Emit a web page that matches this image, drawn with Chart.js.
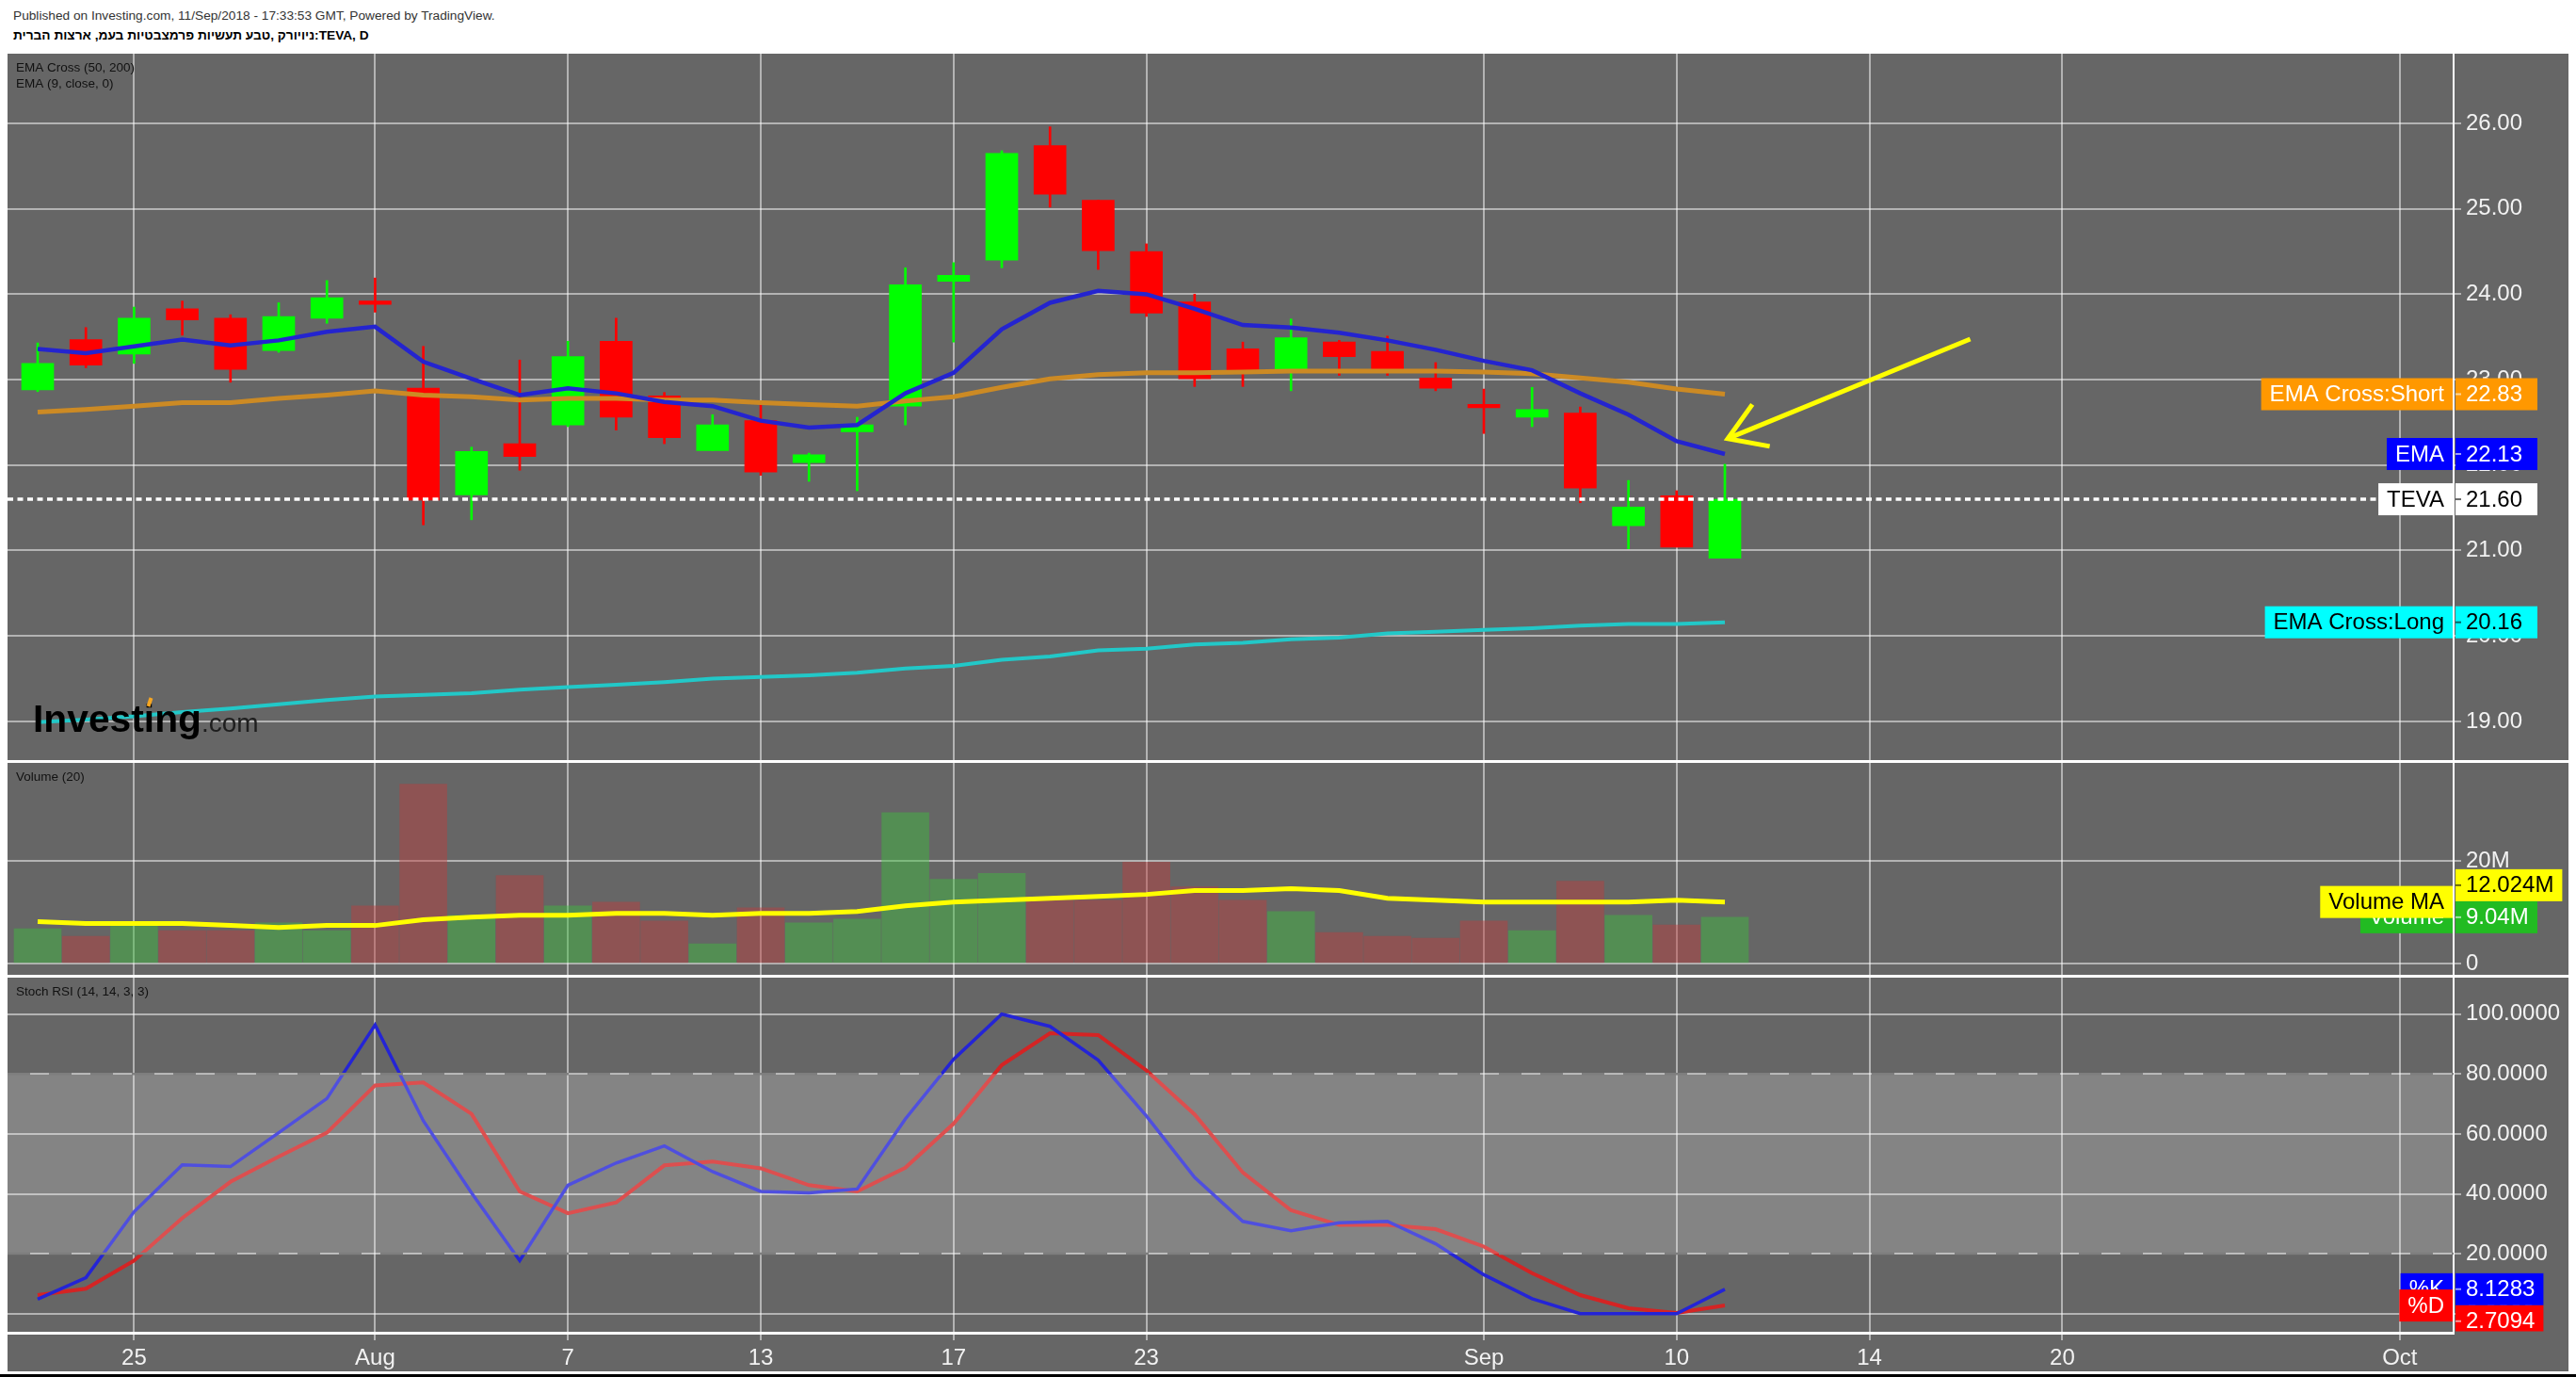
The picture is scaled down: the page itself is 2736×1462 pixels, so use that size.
<!DOCTYPE html>
<html>
<head>
<meta charset="utf-8">
<title>TEVA, D</title>
<script src="https://cdn.jsdelivr.net/npm/chart.js@4.4.1/dist/chart.umd.min.js"></script>
<style>
 html,body{margin:0;padding:0;background:#fff;width:2736px;height:1462px;overflow:hidden;}
 body{font-family:"Liberation Sans",Arial,sans-serif;position:relative;}
 #h1{position:absolute;left:14px;top:9px;font-size:13.7px;line-height:16px;color:#333;white-space:nowrap;}
 #h2{position:absolute;left:14px;top:30px;font-size:13.7px;line-height:16px;font-weight:bold;color:#000;white-space:nowrap;}
 #bg{position:absolute;left:8px;top:57px;width:2720px;height:1399px;background:#666;}
 .sep{position:absolute;left:8px;width:2720px;height:3px;background:#fff;}
 #bot{position:absolute;left:0;top:1459px;width:2736px;height:3px;background:#000;}
 canvas{position:absolute;left:0;}
</style>
</head>
<body>
<div id="h1">Published on Investing.com, 11/Sep/2018 - 17:33:53 GMT, Powered by TradingView.</div>
<div id="h2">ניויורק ,טבע תעשיות פרמצבטיות בעמ, ארצות הברית:TEVA, D</div>
<div id="bg"></div>
<canvas id="cMain" width="2736" height="750" style="top:57px"></canvas>
<div class="sep" style="top:807px"></div>
<canvas id="cVol" width="2736" height="225" style="top:810px"></canvas>
<div class="sep" style="top:1035px"></div>
<canvas id="cStoch" width="2736" height="419" style="top:1038px"></canvas>
<div id="bot"></div>
<script>
// ---------------- DATA ----------------
const days = ['Jul 23','Jul 24','Jul 25','Jul 26','Jul 27','Jul 30','Jul 31',
  'Aug 1','Aug 2','Aug 3','Aug 6','Aug 7','Aug 8','Aug 9','Aug 10','Aug 13','Aug 14','Aug 15','Aug 16','Aug 17',
  'Aug 20','Aug 21','Aug 22','Aug 23','Aug 24','Aug 27','Aug 28','Aug 29','Aug 30','Aug 31',
  'Sep 4','Sep 5','Sep 6','Sep 7','Sep 10','Sep 11'];
const openP  = [22.88,23.47,23.30,23.83,23.72,23.34,23.72,23.92,22.90,21.65,22.25,22.47,23.45,22.81,22.17,22.52,22.03,22.39,22.69,24.15,24.40,25.74,25.10,24.50,23.91,23.36,23.09,23.44,23.33,23.02,22.71,22.56,22.61,21.29,21.64,20.91];
const highP  = [23.43,23.61,23.85,23.92,23.76,23.90,24.16,24.19,23.39,22.21,23.23,23.45,23.72,22.85,22.59,22.72,22.14,22.56,24.31,24.37,25.68,25.96,25.10,24.59,24.00,23.44,23.71,23.46,23.51,23.20,22.89,22.91,22.68,21.82,21.70,22.01];
const lowP   = [22.86,23.14,23.19,23.52,22.97,23.32,23.66,23.79,21.30,21.36,21.94,22.45,22.41,22.25,22.17,21.88,21.81,21.70,22.47,23.44,24.31,25.02,24.29,23.74,22.92,22.92,22.87,23.05,23.05,22.87,22.37,22.45,21.56,21.02,21.04,20.91];
const closeP = [23.19,23.17,23.72,23.70,23.12,23.74,23.96,23.88,21.59,22.16,22.10,23.27,22.56,22.32,22.47,21.92,22.12,22.47,24.11,24.22,25.65,25.17,24.51,23.78,23.01,23.07,23.49,23.27,23.12,22.90,22.67,22.65,21.73,21.51,21.04,21.60];
const ema9   = [23.36,23.31,23.39,23.47,23.40,23.46,23.56,23.62,23.21,23.01,22.82,22.90,22.84,22.74,22.69,22.52,22.44,22.47,22.84,23.08,23.59,23.90,24.04,24.00,23.83,23.64,23.61,23.55,23.46,23.35,23.22,23.11,22.84,22.59,22.28,22.13];
const ema50  = [22.62,22.65,22.69,22.73,22.73,22.78,22.82,22.87,22.82,22.80,22.76,22.78,22.78,22.76,22.76,22.73,22.71,22.69,22.75,22.80,22.91,23.01,23.06,23.08,23.08,23.09,23.10,23.10,23.10,23.10,23.09,23.07,23.02,22.97,22.89,22.83];
const ema200 = [18.99,19.02,19.06,19.11,19.15,19.20,19.25,19.29,19.31,19.33,19.37,19.40,19.43,19.46,19.50,19.52,19.54,19.57,19.62,19.65,19.72,19.76,19.83,19.85,19.90,19.92,19.96,19.98,20.03,20.05,20.07,20.09,20.12,20.14,20.14,20.16];
const volumeM   = [6.81,5.33,7.31,6.44,6.44,7.93,6.44,11.27,35.05,9.41,17.21,11.27,12.01,8.30,3.84,10.90,7.93,8.67,29.47,16.47,17.59,12.38,12.38,19.81,14.98,12.38,10.15,6.07,5.33,4.95,8.30,6.44,16.10,9.41,7.55,9.04];
const volumeMA  = [8.17,7.80,7.80,7.80,7.43,7.06,7.43,7.43,8.54,9.04,9.41,9.41,9.78,9.78,9.41,9.78,9.78,10.15,11.27,12.01,12.38,12.76,13.13,13.50,14.24,14.24,14.61,14.24,12.76,12.38,12.01,12.01,12.01,12.01,12.38,12.024];
const stochK = [4.8,12.0,34.0,49.7,49.1,60.4,71.8,96.4,64.4,40.3,17.7,42.9,50.3,56.0,47.4,40.8,40.3,41.6,65.0,84.9,100,95.9,84.6,66.0,45.5,30.8,27.7,30.3,30.8,23.3,13.0,5.0,0,0,0,8.1283];
const stochD = [6.2,8.3,17.7,31.9,44.0,52.4,60.4,76.2,77.2,66.7,40.8,33.5,37.1,49.5,50.8,48.5,42.9,40.8,48.7,63.4,83.0,93.6,93.0,81.2,66.5,47.1,34.5,29.6,29.6,28.2,22.4,13.5,6.2,1.8,0.2,2.7094];
const xTickIndex  = [2,7,11,15,19,23,30,34,38,42,49];
const xTickLabels = ['25','Aug','7','13','17','23','Sep','10','14','20','Oct'];
const priceTicks  = [19,20,21,22,23,24,25,26];
const volumeTicks = [0,20];
const stochTicks  = [0,20,40,60,80,100];
// annotation arrow (data space: [bar index, price])
const arrowShaft = [[40.09,23.475],[35.06,22.31]];
const arrowHead  = [[35.57,22.71],[35.06,22.31],[35.93,22.22]];

// ---------------- STYLE / LAYOUT ----------------
const FONT = '"Liberation Sans", Arial, sans-serif';
const GRID = 'rgba(255,255,255,0.5)';
const TICK_COLOR = '#f2f2f2';
const X_MIN = -0.625, X_MAX = 50.117;
const AXIS_W = 130;
const UP = '#00ff00', DOWN = '#ff0000';
const candleColors = closeP.map((c,i)=> c >= openP[i] ? UP : DOWN);
const volColors = closeP.map((c,i)=> c >= openP[i] ? 'rgba(60,190,60,0.45)' : 'rgba(190,60,60,0.45)');
const pts = arr => arr.map((v,i)=>({x:i, y:v}));

function xScale(show){
  return {
    type:'linear', min:X_MIN, max:X_MAX, offset:false,
    afterBuildTicks: s => { s.ticks = xTickIndex.map(v=>({value:v})); },
    afterFit: s => { s.height = show ? 42 : 0; s.paddingLeft = 0; s.paddingRight = 0; },
    grid:{color:GRID, lineWidth:2, drawTicks:show, tickLength:8, offset:false},
    border: show ? {display:true, color:'#ffffff', width:3} : {display:false},
    ticks:{display:show, autoSkip:false, maxRotation:0, minRotation:0, color:TICK_COLOR,
      font:{family:FONT, size:24}, padding:5,
      callback:(v)=>{ const k = xTickIndex.indexOf(v); return k>=0 ? xTickLabels[k] : ''; }}
  };
}
function yScale(min, max, ticks, fmt){
  return {
    type:'linear', position:'right', min, max, beginAtZero:false,
    afterBuildTicks: s => { s.ticks = ticks.map(v=>({value:v})); },
    afterFit: s => { s.width = AXIS_W; s.paddingTop = 0; s.paddingBottom = 0; },
    grid:{color:GRID, lineWidth:2, tickLength:8, drawTicks:true},
    border:{display:true, color:'#ffffff', width:2},
    ticks:{color:TICK_COLOR, font:{family:FONT, size:24}, padding:5, autoSkip:false, callback:fmt}
  };
}
const BOX_H = 34;
function labelBox(ctx, axisX, text, cy, bg, fg){
  ctx.font = '24px ' + FONT; ctx.textBaseline = 'middle'; ctx.textAlign = 'left';
  const tw = ctx.measureText(text).width;
  const right = axisX - 1, left = right - tw - 18;
  ctx.fillStyle = bg; ctx.fillRect(left, cy - BOX_H/2, right - left, BOX_H);
  ctx.fillStyle = fg; ctx.fillText(text, left + 9, cy + 1);
}
function valueBox(ctx, axisX, text, cy, bg, fg){
  ctx.font = '24px ' + FONT; ctx.textBaseline = 'middle'; ctx.textAlign = 'left';
  const tw = ctx.measureText(text).width;
  const left = axisX + 2, tx = axisX + 13, right = Math.max(axisX + 89, tx + tw + 9);
  ctx.fillStyle = bg; ctx.fillRect(left, cy - BOX_H/2, right - left, BOX_H);
  ctx.strokeStyle = fg; ctx.globalAlpha = 0.6; ctx.lineWidth = 2;
  ctx.beginPath(); ctx.moveTo(left, cy); ctx.lineTo(left + 6, cy); ctx.stroke();
  ctx.globalAlpha = 1;
  ctx.fillStyle = fg; ctx.fillText(text, tx, cy + 1);
}
function paneTitles(ctx, lines){
  ctx.font = '13.5px ' + FONT; ctx.fillStyle = '#111'; ctx.textBaseline = 'middle'; ctx.textAlign = 'left';
  lines.forEach((t,k)=> ctx.fillText(t, 17, 15 + k*17));
}
const baseOpts = {
  responsive:false, animation:false, devicePixelRatio:1, events:[],
  plugins:{legend:{display:false}, tooltip:{enabled:false}},
  elements:{line:{tension:0}, point:{radius:0}}
};

// ---------------- MAIN PRICE PANE ----------------
const mainOverlay = {
  id:'mainOverlay',
  afterDatasetsDraw(chart){
    const {ctx, chartArea:a, scales:{x, y}} = chart;
    ctx.save();
    ctx.beginPath(); ctx.rect(a.left, a.top, a.width, a.height); ctx.clip();
    // current price line
    const py = Math.round(y.getPixelForValue(closeP[closeP.length-1]));
    ctx.strokeStyle = '#ffffff'; ctx.lineWidth = 3.5; ctx.setLineDash([6,4.5]);
    ctx.beginPath(); ctx.moveTo(a.left, py); ctx.lineTo(a.right, py); ctx.stroke();
    ctx.setLineDash([]);
    // yellow arrow
    const P = p => [x.getPixelForValue(p[0]), y.getPixelForValue(p[1])];
    ctx.strokeStyle = '#ffff00'; ctx.lineWidth = 5; ctx.lineCap = 'butt'; ctx.lineJoin = 'miter';
    ctx.beginPath(); ctx.moveTo(...P(arrowShaft[0])); ctx.lineTo(...P(arrowShaft[1])); ctx.stroke();
    ctx.beginPath(); ctx.moveTo(...P(arrowHead[0])); ctx.lineTo(...P(arrowHead[1])); ctx.lineTo(...P(arrowHead[2])); ctx.stroke();
    // watermark logo
    const lx = a.left + 27, ly = a.top + 720;
    ctx.font = 'bold 41px ' + FONT; ctx.textBaseline = 'alphabetic'; ctx.textAlign = 'left';
    const w = ctx.measureText('Investing').width;
    const sx = 179 / w;
    ctx.save(); ctx.translate(lx, ly); ctx.scale(sx, 1);
    ctx.fillStyle = '#000'; ctx.fillText('Investing', 0, 0);
    const iPos = ctx.measureText('Invest').width + ctx.measureText('i').width/2;
    ctx.restore();
    ctx.strokeStyle = '#f5a623'; ctx.lineWidth = 4;
    ctx.beginPath(); ctx.moveTo(lx + iPos*sx - 1, ly - 27); ctx.lineTo(lx + iPos*sx + 2, ly - 36); ctx.stroke();
    ctx.font = '28px ' + FONT; ctx.fillStyle = '#1e1e1e';
    ctx.fillText('.com', lx + 179, ly);
    ctx.restore();
  },
  afterDraw(chart){
    const {ctx, chartArea:a, scales:{y}} = chart;
    ctx.save();
    paneTitles(ctx, ['EMA Cross (50, 200)', 'EMA (9, close, 0)']);
    const ax = a.right;
    const tags = [
      ['EMA Cross:Short', ema50[ema50.length-1], '#ff9800', '#ffffff'],
      ['EMA', ema9[ema9.length-1], '#0000ff', '#ffffff'],
      ['TEVA', closeP[closeP.length-1], '#ffffff', '#000000'],
      ['EMA Cross:Long', ema200[ema200.length-1], '#00ffff', '#000000']
    ];
    tags.forEach(([t, v, bg, fg]) => {
      const cy = y.getPixelForValue(v);
      labelBox(ctx, ax, t, cy, bg, fg);
      valueBox(ctx, ax, v.toFixed(2), cy, bg, fg);
    });
    ctx.restore();
  }
};
new Chart(document.getElementById('cMain'), {
  type:'bar',
  data:{datasets:[
    {type:'line', label:'EMA', data:pts(ema9), borderColor:'#2424cf', borderWidth:4.5, pointRadius:0, order:0},
    {type:'line', label:'EMA Cross:Short', data:pts(ema50), borderColor:'#cc8a24', borderWidth:5, pointRadius:0, order:0.3},
    {type:'line', label:'EMA Cross:Long', data:pts(ema200), borderColor:'#22c8c8', borderWidth:4, pointRadius:0, order:0.4},
    {type:'bar', label:'body', data:openP.map((o,i)=>({x:i, y:[o, closeP[i]]})), backgroundColor:candleColors, borderWidth:0, barThickness:34, grouped:false, order:1},
    {type:'bar', label:'wick', data:lowP.map((l,i)=>({x:i, y:[l, highP[i]]})), backgroundColor:candleColors, borderWidth:0, barThickness:2, grouped:false, order:2}
  ]},
  options:Object.assign({}, baseOpts, {
    layout:{padding:{left:8, right:0, top:0, bottom:0}},
    scales:{ x:xScale(false), y:yScale(18.5468, 26.8159, priceTicks, v=>v.toFixed(2)) }
  }),
  plugins:[mainOverlay]
});

// ---------------- VOLUME PANE ----------------
const volOverlay = {
  id:'volOverlay',
  afterDraw(chart){
    const {ctx, chartArea:a, scales:{y}} = chart;
    ctx.save();
    paneTitles(ctx, ['Volume (20)']);
    const ax = a.right;
    const vLast = volumeM[volumeM.length-1], maLast = volumeMA[volumeMA.length-1];
    const cyV = y.getPixelForValue(vLast), cyMA = y.getPixelForValue(maLast);
    labelBox(ctx, ax, 'Volume', cyV, '#22bb22', '#ffffff');
    valueBox(ctx, ax, vLast.toFixed(2) + 'M', cyV, '#22bb22', '#ffffff');
    labelBox(ctx, ax, 'Volume MA', cyMA, '#ffff00', '#000000');
    valueBox(ctx, ax, maLast.toFixed(3) + 'M', Math.min(cyMA, cyV - BOX_H), '#ffff00', '#000000');
    ctx.restore();
  }
};
new Chart(document.getElementById('cVol'), {
  type:'bar',
  data:{datasets:[
    {type:'line', label:'Volume MA', data:pts(volumeMA), borderColor:'#ffff00', borderWidth:5, pointRadius:0, order:0},
    {type:'bar', label:'Volume', data:pts(volumeM), backgroundColor:volColors, borderWidth:0, barThickness:50, grouped:false, order:1}
  ]},
  options:Object.assign({}, baseOpts, {
    layout:{padding:{left:8, right:0, top:0, bottom:0}},
    scales:{ x:xScale(false), y:yScale(-2.208, 39.19, volumeTicks, v=> v===0 ? '0' : v + 'M') }
  }),
  plugins:[volOverlay]
});

// ---------------- STOCH RSI PANE ----------------
const stochOverlay = {
  id:'stochOverlay',
  afterDatasetsDraw(chart){
    const {ctx, chartArea:a, scales:{y}} = chart;
    ctx.save();
    const y80 = y.getPixelForValue(80), y20 = y.getPixelForValue(20);
    ctx.fillStyle = 'rgba(255,255,255,0.2)';
    ctx.fillRect(a.left, y80, a.width, y20 - y80);
    ctx.strokeStyle = '#7e7e7e'; ctx.lineWidth = 2.5; ctx.setLineDash([24,20]);
    [y80, y20].forEach(yy => { ctx.beginPath(); ctx.moveTo(a.left, yy); ctx.lineTo(a.right, yy); ctx.stroke(); });
    ctx.restore();
  },
  afterDraw(chart){
    const {ctx, chartArea:a, scales:{y}} = chart;
    ctx.save();
    paneTitles(ctx, ['Stoch RSI (14, 14, 3, 3)']);
    ctx.beginPath(); ctx.rect(0, 0, chart.width, a.bottom - 1.5); ctx.clip();
    const ax = a.right;
    const kLast = stochK[stochK.length-1], dLast = stochD[stochD.length-1];
    const cyK = y.getPixelForValue(kLast), cyD = y.getPixelForValue(dLast);
    labelBox(ctx, ax, '%K', cyK, '#0000ff', '#ffffff');
    valueBox(ctx, ax, kLast.toFixed(4), cyK, '#0000ff', '#ffffff');
    labelBox(ctx, ax, '%D', cyD, '#ff0000', '#ffffff');
    valueBox(ctx, ax, dLast.toFixed(4), Math.max(cyD, cyK + BOX_H), '#ff0000', '#ffffff');
    ctx.restore();
  }
};
new Chart(document.getElementById('cStoch'), {
  type:'line',
  data:{datasets:[
    {label:'%K', data:pts(stochK), borderColor:'#2424d6', borderWidth:3.5, pointRadius:0, order:0},
    {label:'%D', data:pts(stochD), borderColor:'#d42424', borderWidth:4, pointRadius:0, order:1}
  ]},
  options:Object.assign({}, baseOpts, {
    layout:{padding:{left:8, right:0, top:0, bottom:0}},
    scales:{ x:xScale(true), y:yScale(-6.38, 112.17, stochTicks, v=>v.toFixed(4)) }
  }),
  plugins:[stochOverlay]
});
</script>
</body>
</html>
